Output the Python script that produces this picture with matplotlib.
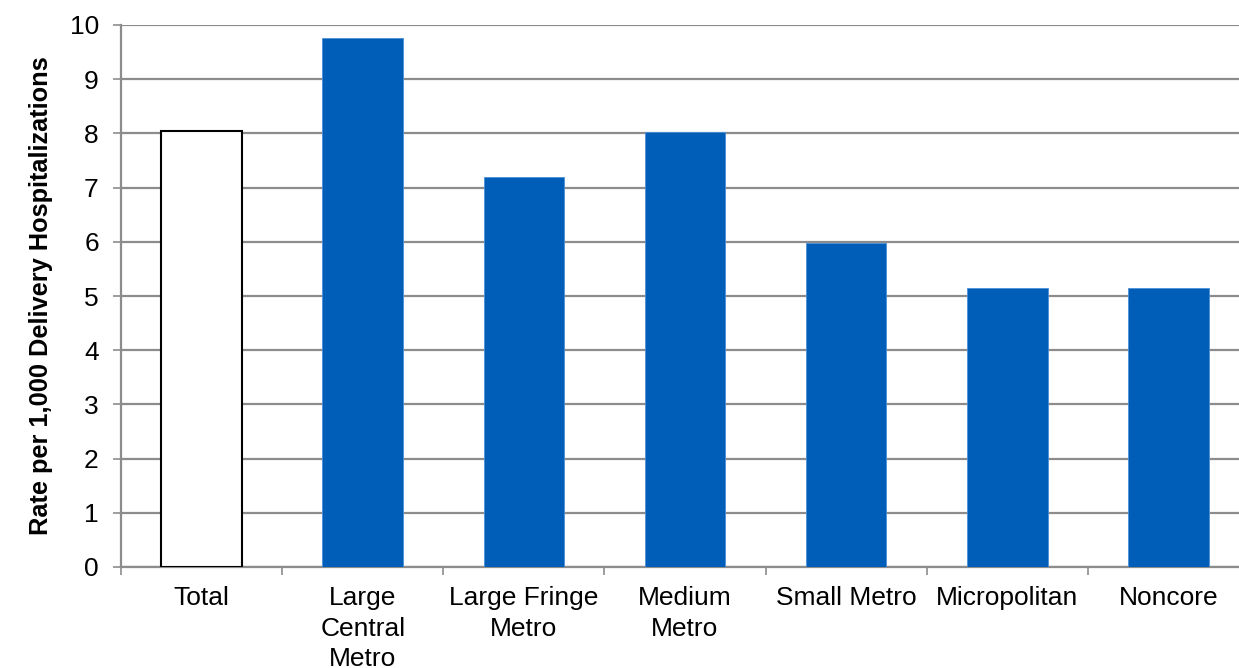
import matplotlib
matplotlib.use('Agg')
import matplotlib.pyplot as plt
import numpy as np

plt.rcParams['font.family'] = ['Liberation Sans', 'DejaVu Sans']

# Data
categories = ['Total', 'Large\nCentral\nMetro', 'Large Fringe\nMetro', 'Medium\nMetro',
              'Small Metro', 'Micropolitan', 'Noncore']
rates = [8.05, 9.76, 7.2, 8.02, 5.98, 5.15, 5.15]

blue = '#005EB8'
grid_grey = '#8C8C8C'

fig = plt.figure(figsize=(12.39, 6.68), dpi=100)
# plot area runs slightly past the right edge of the image, like the reference
ax = fig.add_axes([121 / 1239, 101 / 668, 1128 / 1239, 542 / 668])

x = np.arange(len(categories))
colors = ['white'] + [blue] * (len(categories) - 1)
edges = ['black'] + ['#4A8FD6'] * (len(categories) - 1)
lws = [1.5] + [0.6] * (len(categories) - 1)
ax.bar(x, rates, width=0.5, color=colors, edgecolor=edges, linewidth=lws, zorder=3)

ax.set_xlim(-0.5, len(categories) - 0.5)
ax.set_ylim(0, 10)
ax.set_yticks(range(0, 11))
ax.yaxis.grid(True, color=grid_grey, linewidth=1.6, zorder=0)
ax.set_axisbelow(True)

ax.set_xticks(x)
ax.set_xticklabels(categories, fontsize=19, linespacing=1.32)
ax.set_xticks(np.arange(-0.5, len(categories) + 0.5, 1), minor=True)
ax.tick_params(axis='x', which='major', length=0, pad=14)
ax.tick_params(axis='x', which='minor', length=6, width=1.2, color=grid_grey, direction='out')
ax.tick_params(axis='y', which='major', labelsize=19, length=6, width=1.2,
               color=grid_grey, pad=10)

for side in ['top', 'right']:
    ax.spines[side].set_visible(False)
for side in ['left', 'bottom']:
    ax.spines[side].set_color(grid_grey)
    ax.spines[side].set_linewidth(1.6)

ax.set_ylabel('Rate per 1,000 Delivery Hospitalizations', fontsize=18.3, fontweight='bold',
              labelpad=12)

fig.savefig('out.png', dpi=100)
